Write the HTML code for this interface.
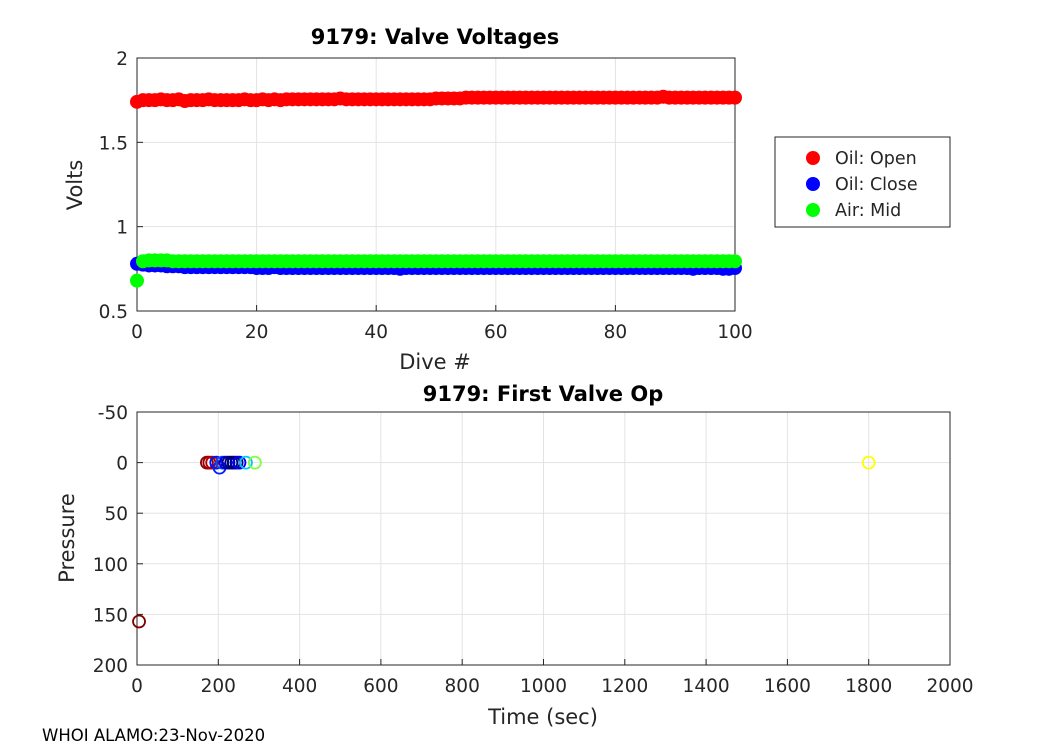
<!DOCTYPE html>
<html><head><meta charset="utf-8"><style>
body{margin:0;background:#fff;font-family:"Liberation Sans","DejaVu Sans",sans-serif}
svg text{font-family:"DejaVu Sans","Liberation Sans",sans-serif;fill:#262626}
</style></head><body>
<svg id="c" width="1050" height="750" xmlns="http://www.w3.org/2000/svg"></svg>
<script>
const dives=[0,1,2,3,4,5,6,7,8,9,10,11,12,13,14,15,16,17,18,19,20,21,22,23,24,25,26,27,28,29,30,31,32,33,34,35,36,37,38,39,40,41,42,43,44,45,46,47,48,49,50,51,52,53,54,55,56,57,58,59,60,61,62,63,64,65,66,67,68,69,70,71,72,73,74,75,76,77,78,79,80,81,82,83,84,85,86,87,88,89,90,91,92,93,94,95,96,97,98,99,100];
const oilOpen=[1.74,1.75,1.75,1.75,1.755,1.75,1.75,1.755,1.745,1.75,1.75,1.75,1.755,1.75,1.75,1.75,1.75,1.75,1.755,1.75,1.75,1.755,1.75,1.755,1.75,1.755,1.755,1.755,1.755,1.755,1.755,1.755,1.755,1.755,1.76,1.755,1.755,1.755,1.755,1.755,1.755,1.755,1.755,1.755,1.755,1.755,1.755,1.755,1.755,1.755,1.76,1.76,1.76,1.76,1.76,1.765,1.765,1.765,1.765,1.765,1.765,1.765,1.765,1.765,1.765,1.765,1.765,1.765,1.765,1.765,1.765,1.765,1.765,1.765,1.765,1.765,1.765,1.765,1.765,1.765,1.765,1.765,1.765,1.765,1.765,1.765,1.765,1.765,1.77,1.765,1.765,1.765,1.765,1.765,1.765,1.765,1.765,1.765,1.765,1.765,1.765];
const oilClose=[0.78,0.775,0.77,0.77,0.77,0.765,0.765,0.765,0.76,0.76,0.76,0.76,0.76,0.76,0.76,0.76,0.76,0.76,0.76,0.76,0.755,0.755,0.755,0.76,0.755,0.755,0.755,0.755,0.755,0.755,0.755,0.755,0.755,0.755,0.755,0.755,0.755,0.755,0.755,0.755,0.755,0.755,0.755,0.755,0.75,0.755,0.755,0.755,0.755,0.755,0.755,0.755,0.755,0.755,0.755,0.755,0.755,0.755,0.755,0.755,0.755,0.755,0.755,0.755,0.755,0.755,0.755,0.755,0.755,0.755,0.755,0.755,0.755,0.755,0.755,0.755,0.755,0.755,0.755,0.755,0.755,0.755,0.755,0.755,0.755,0.755,0.755,0.755,0.755,0.755,0.755,0.755,0.755,0.75,0.755,0.755,0.755,0.755,0.75,0.75,0.755];
const airMid=[0.68,0.795,0.8,0.8,0.8,0.8,0.795,0.795,0.795,0.795,0.795,0.795,0.795,0.795,0.795,0.795,0.795,0.795,0.795,0.795,0.795,0.795,0.795,0.795,0.795,0.795,0.795,0.795,0.795,0.795,0.795,0.795,0.795,0.795,0.795,0.795,0.795,0.795,0.795,0.795,0.795,0.795,0.795,0.795,0.795,0.795,0.795,0.795,0.795,0.795,0.795,0.795,0.795,0.795,0.795,0.795,0.795,0.795,0.795,0.795,0.795,0.795,0.795,0.795,0.795,0.795,0.795,0.795,0.795,0.795,0.795,0.795,0.795,0.795,0.795,0.795,0.795,0.795,0.795,0.795,0.795,0.795,0.795,0.795,0.795,0.795,0.795,0.795,0.795,0.795,0.795,0.795,0.795,0.795,0.795,0.795,0.795,0.795,0.795,0.795,0.795];
const opTimes=[5,172,178,185,195,203,210,218,225,232,238,245,252,268,290,1800];
const opPress=[157,0,0,0,0,5,0,0,0,0,0,0,0,0,0,0];
const opColors=["#800000","#900000","#a00000","#b00000","#0010ff","#0020ff","#0050ff","#0000d0","#0000a0","#000080","#000070","#000090","#0000ff","#00c8ff","#80ff40","#ffff00"];
const topXTicks=[0,20,40,60,80,100], topYTicks=[0.5,1,1.5,2], topYLabels=["0.5","1","1.5","2"];
const botXTicks=[0,200,400,600,800,1000,1200,1400,1600,1800,2000], botYTicks=[-50,0,50,100,150,200];
const legendLabels=["Oil: Open","Oil: Close","Air: Mid"], legendColors=["#ff0000","#0000ff","#00ff00"];

const svg=document.getElementById('c');const NS="http://www.w3.org/2000/svg";
function mk(t,a,p){const e=document.createElementNS(NS,t);for(const k in a)e.setAttribute(k,a[k]);(p||svg).appendChild(e);return e;}
const tx=v=>137+(v-0)/(100)*598, ty=v=>311-(v-0.5)/1.5*253;
const bx=v=>137+v/2000*813, by=v=>412+(v+50)/250*253;

function axes(x0,x1,y0,y1,xt,xf,xl,yt,yf,yl,name){
  const g=mk('g',{});
  mk('rect',{x:x0,y:y0,width:x1-x0,height:y1-y0,fill:'#fff'},g);
  xt.forEach((v,i)=>{const X=xf(v);mk('line',{x1:X,x2:X,y1:y0,y2:y1,stroke:'#e3e3e3'},g);
    mk('line',{x1:X,x2:X,y1:y1,y2:y1-6,stroke:'#262626'},g);
    const t=mk('text',{x:X,y:y1+27,'text-anchor':'middle','font-size':18.5},g);t.textContent=xl[i];
    });
  yt.forEach((v,i)=>{const Y=yf(v);mk('line',{x1:x0,x2:x1,y1:Y,y2:Y,stroke:'#e3e3e3'},g);
    mk('line',{x1:x0,x2:x0+6,y1:Y,y2:Y,stroke:'#262626'},g);
    const t=mk('text',{x:x0-9,y:Y+7,'text-anchor':'end','font-size':18.5},g);t.textContent=yl[i];
    });
  mk('rect',{x:x0,y:y0,width:x1-x0,height:y1-y0,fill:'none',stroke:'#262626'},g);
  return g;
}
axes(137,735,58,311,topXTicks,tx,topXTicks.map(String),topYTicks,ty,topYLabels,'valve-voltage-axes');
const gs=mk('g',{});
[[oilOpen,'#ff0000'],[oilClose,'#0000ff'],[airMid,'#00ff00']].forEach(([arr,c])=>{
  arr.forEach((v,i)=>{const d=mk('circle',{cx:tx(dives[i]),cy:ty(v),r:7,fill:c},gs);
    });});
const lg=mk('g',{});
mk('rect',{x:775,y:137,width:175,height:90,fill:'#fff',stroke:'#262626'},lg);
legendLabels.forEach((l,i)=>{mk('circle',{cx:813,cy:158+i*26,r:7,fill:legendColors[i]},lg);
  const t=mk('text',{x:835,y:164+i*26,'font-size':17.5},lg);t.textContent=l;
  });
function txt(s,x,y,o,n){const t=mk('text',Object.assign({x:x,y:y},o));t.textContent=s;return t;}
txt('9179: Valve Voltages',435,44,{'text-anchor':'middle','font-size':21,'font-weight':'bold',style:'fill:#000'},'top-chart-title');
txt('Dive #',435,369,{'text-anchor':'middle','font-size':21},'top-x-axis-title');
txt('Volts',82,185,{'text-anchor':'middle','font-size':21,transform:'rotate(-90 82 185)'},'top-y-axis-title');

axes(137,950,412,665,botXTicks,bx,botXTicks.map(String),botYTicks,by,botYTicks.map(String),'valve-op-axes');
const gb=mk('g',{});
opTimes.forEach((t,i)=>{const d=mk('circle',{cx:bx(t),cy:by(opPress[i]),r:6,fill:'none',stroke:opColors[i],'stroke-width':1.8},gb);
  });
txt('9179: First Valve Op',543,401,{'text-anchor':'middle','font-size':21,'font-weight':'bold',style:'fill:#000'},'bottom-chart-title');
txt('Time (sec)',543,724,{'text-anchor':'middle','font-size':21},'bottom-x-axis-title');
txt('Pressure',74,538,{'text-anchor':'middle','font-size':21,transform:'rotate(-90 74 538)'},'bottom-y-axis-title');
txt('WHOI ALAMO:23-Nov-2020',42,741,{'font-size':16.5,style:'fill:#000'},'footer-label');
</script>
</body></html>
